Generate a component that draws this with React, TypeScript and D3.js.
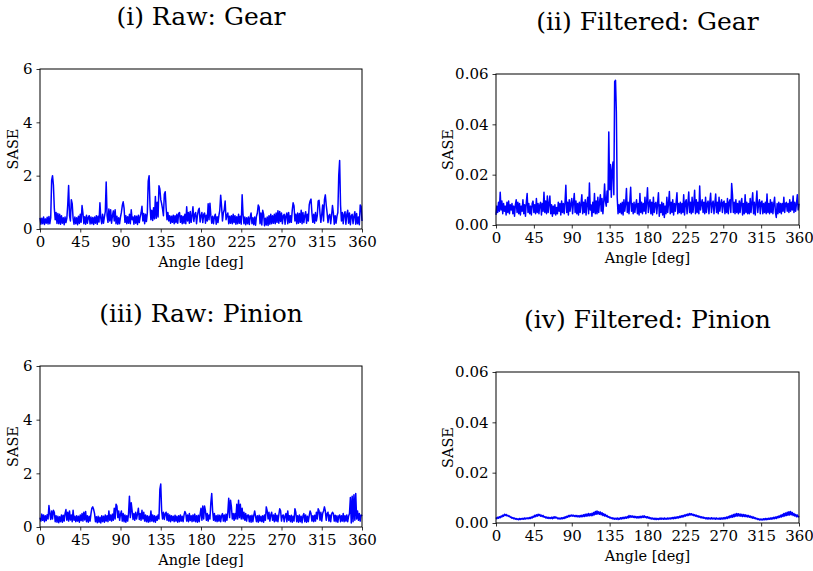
import { useEffect, useRef } from "react";
import * as d3 from "d3";

// SASE vs shaft angle, one sample per degree (0..360)
const ANGLE_TICKS = [0, 45, 90, 135, 180, 225, 270, 315, 360];
const RAW_TICKS = [0, 2, 4, 6];
const FILTERED_TICKS = [0, 0.02, 0.04, 0.06];
const TITLES = ["(i) Raw: Gear", "(ii) Filtered: Gear", "(iii) Raw: Pinion", "(iv) Filtered: Pinion"];

const rawGear = [
  0.42, 0.18, 0.40, 0.2, 0.45, 0.17, 0.38, 0.22, 0.44, 0.19, 0.47, 0.2, 0.43, 1.82, 2.0, 1.65, 0.78, 0.35, 0.62, 0.21,
  0.58, 0.2, 0.55, 0.18, 0.5, 0.22, 0.42, 0.16, 0.45, 0.24, 0.4, 0.9, 1.63, 0.5, 0.3, 1.1, 0.95, 0.4, 0.18, 0.45,
  0.2, 0.42, 0.16, 0.48, 0.21, 0.55, 0.25, 0.88, 0.6, 0.2, 0.46, 0.18, 0.52, 0.22, 0.44, 0.5, 0.19, 0.45, 0.2, 0.43,
  0.17, 0.45, 0.22, 0.5, 0.18, 0.48, 0.26, 0.98, 0.4, 0.2, 0.55, 0.22, 0.45, 0.65, 1.76, 0.5, 0.25, 0.75, 0.3, 0.72,
  0.22, 0.5, 0.68, 0.3, 0.72, 0.2, 0.48, 0.18, 0.42, 0.2, 0.45, 0.62, 0.88, 1.02, 0.78, 0.25, 0.5, 0.2, 0.46, 0.22,
  0.55, 0.2, 0.72, 0.35, 0.45, 0.18, 0.5, 0.22, 0.48, 0.17, 0.52, 0.24, 0.45, 0.6, 0.85, 0.3, 0.58, 0.2, 0.55, 0.28,
  0.6, 1.8, 2.0, 0.85, 0.35, 0.7, 0.32, 0.8, 0.38, 1.22, 0.4, 1.0, 0.45, 1.62, 1.5, 1.1, 0.95, 0.75, 0.5, 1.3,
  1.4, 0.8, 0.35, 0.62, 0.3, 0.5, 0.22, 0.48, 0.25, 0.52, 0.2, 0.5, 0.24, 0.55, 0.22, 0.58, 0.62, 0.25, 0.5, 0.2,
  0.48, 0.22, 0.55, 0.2, 0.83, 0.3, 0.62, 0.22, 0.66, 0.25, 0.5, 0.83, 0.28, 0.55, 0.62, 0.2, 0.5, 0.7, 0.78, 0.26,
  0.5, 0.62, 0.24, 0.55, 0.6, 0.22, 0.52, 0.3, 0.95, 0.35, 0.97, 0.5, 0.22, 0.48, 0.2, 0.45, 0.55, 0.18, 0.46, 0.24,
  0.5, 0.7, 1.27, 0.85, 0.3, 0.6, 0.72, 1.05, 0.35, 0.5, 0.6, 0.2, 0.48, 0.22, 0.5, 0.2, 0.55, 0.24, 0.5, 0.18,
  0.46, 0.2, 0.55, 0.22, 0.48, 0.18, 1.28, 0.55, 0.2, 0.45, 0.16, 0.42, 0.2, 0.45, 0.17, 0.44, 0.6, 0.2, 0.42, 0.16,
  0.45, 0.14, 0.48, 0.6, 0.9, 0.82, 0.2, 0.6, 0.15, 0.7, 0.55, 0.12, 0.4, 0.15, 0.45, 0.13, 0.5, 0.18, 0.55, 0.2,
  0.5, 0.22, 0.55, 0.2, 0.6, 0.25, 0.68, 0.22, 0.66, 0.28, 0.6, 0.2, 0.5, 0.55, 0.18, 0.5, 0.6, 0.2, 0.62, 0.24,
  0.5, 0.25, 0.7, 0.98, 0.86, 0.3, 0.55, 0.2, 0.6, 0.22, 0.58, 0.25, 0.7, 0.2, 0.62, 0.24, 0.5, 0.65, 0.22, 0.55,
  0.3, 0.9, 1.05, 1.12, 0.6, 0.25, 0.55, 0.22, 0.62, 0.3, 0.5, 1.05, 1.08, 0.6, 0.25, 0.55, 0.9, 0.3, 1.1, 1.28,
  0.9, 0.6, 0.24, 0.5, 0.55, 0.2, 0.5, 0.88, 0.6, 0.18, 0.5, 0.22, 0.48, 0.62, 2.0, 2.57, 0.9, 0.3, 0.62, 0.2,
  0.55, 0.65, 0.18, 0.55, 0.7, 0.22, 0.6, 0.16, 0.5, 0.55, 0.2, 0.48, 0.65, 0.18, 0.58, 0.2, 0.45, 0.16, 0.9, 0.85,
  0.3,
];

const filteredGear = [
  0.004, 0.0075, 0.005, 0.009, 0.0055, 0.013, 0.006, 0.0095, 0.0045, 0.0085, 0.0055, 0.0075, 0.004, 0.009, 0.005, 0.0095, 0.0045, 0.008, 0.006, 0.0085,
  0.0045, 0.0075, 0.0035, 0.008, 0.01, 0.005, 0.009, 0.0045, 0.0085, 0.004, 0.0075, 0.0055, 0.01, 0.0045, 0.008, 0.0035, 0.009, 0.0125, 0.005, 0.0085,
  0.0045, 0.0075, 0.004, 0.0085, 0.0095, 0.005, 0.008, 0.0045, 0.0105, 0.005, 0.0085, 0.0045, 0.008, 0.009, 0.004, 0.0085, 0.0055, 0.013, 0.005, 0.0095,
  0.0045, 0.0115, 0.005, 0.0085, 0.0115, 0.0045, 0.008, 0.0035, 0.0075, 0.0045, 0.008, 0.004, 0.007, 0.0045, 0.009, 0.0055, 0.0085, 0.004, 0.0095, 0.005,
  0.0085, 0.0045, 0.009, 0.0158, 0.005, 0.009, 0.004, 0.01, 0.0055, 0.0085, 0.0105, 0.0045, 0.009, 0.0125, 0.005, 0.0095, 0.0045, 0.0085, 0.004, 0.009,
  0.005, 0.0085, 0.012, 0.0045, 0.009, 0.005, 0.01, 0.004, 0.0085, 0.011, 0.0045, 0.0167, 0.006, 0.008, 0.0035, 0.009, 0.005, 0.0125, 0.0045, 0.0095,
  0.0045, 0.011, 0.005, 0.009, 0.012, 0.0055, 0.0105, 0.0045, 0.009, 0.0163, 0.0095, 0.0075, 0.0135, 0.009, 0.037, 0.014, 0.024, 0.011, 0.022, 0.025,
  0.012, 0.057, 0.0575, 0.045, 0.011, 0.0045, 0.008, 0.005, 0.0085, 0.0045, 0.009, 0.004, 0.01, 0.0055, 0.0085, 0.0145, 0.005, 0.009, 0.0045, 0.0095,
  0.015, 0.0055, 0.0085, 0.0045, 0.009, 0.005, 0.008, 0.01, 0.0045, 0.0085, 0.004, 0.0125, 0.005, 0.009, 0.0045, 0.0085, 0.0055, 0.011, 0.0045, 0.009,
  0.0148, 0.005, 0.0085, 0.01, 0.0045, 0.009, 0.004, 0.011, 0.005, 0.0085, 0.009, 0.0045, 0.0085, 0.0128, 0.0035, 0.008, 0.005, 0.009, 0.004, 0.0085,
  0.003, 0.0075, 0.0045, 0.011, 0.005, 0.0085, 0.0133, 0.0045, 0.009, 0.005, 0.01, 0.004, 0.0085, 0.0055, 0.009, 0.0128, 0.0045, 0.0085, 0.005, 0.009,
  0.0045, 0.0085, 0.005, 0.012, 0.004, 0.009, 0.01, 0.0045, 0.0085, 0.0131, 0.005, 0.009, 0.0045, 0.011, 0.005, 0.0085, 0.0138, 0.0045, 0.01, 0.005,
  0.009, 0.0045, 0.0155, 0.006, 0.0085, 0.01, 0.005, 0.009, 0.0045, 0.011, 0.005, 0.0085, 0.0095, 0.0045, 0.009, 0.0126, 0.005, 0.0085, 0.0095, 0.0045,
  0.0085, 0.0123, 0.005, 0.009, 0.0045, 0.011, 0.0055, 0.0085, 0.01, 0.005, 0.009, 0.0095, 0.0045, 0.0085, 0.005, 0.0105, 0.0045, 0.009, 0.01, 0.005,
  0.0165, 0.012, 0.005, 0.009, 0.0045, 0.01, 0.005, 0.0085, 0.0045, 0.0095, 0.005, 0.009, 0.0105, 0.004, 0.0085, 0.0045, 0.012, 0.005, 0.009, 0.0045,
  0.0085, 0.0045, 0.0105, 0.005, 0.009, 0.0128, 0.0045, 0.009, 0.004, 0.0085, 0.0135, 0.005, 0.0085, 0.01, 0.0045, 0.009, 0.0095, 0.0045, 0.0085, 0.005,
  0.009, 0.0045, 0.0123, 0.005, 0.0085, 0.0045, 0.01, 0.005, 0.009, 0.0045, 0.0085, 0.011, 0.005, 0.003, 0.0085, 0.0045, 0.009, 0.005, 0.0085, 0.0045,
  0.0085, 0.0055, 0.011, 0.005, 0.0085, 0.009, 0.0055, 0.0085, 0.005, 0.01, 0.0055, 0.009, 0.006, 0.0115, 0.005, 0.009, 0.0055, 0.0085, 0.012, 0.006,
  0.0085,
];

const rawPinion = [
  0.35, 0.22, 0.48, 0.25, 0.45, 0.2, 0.42, 0.24, 0.46, 0.3, 0.8, 0.5, 0.28, 0.6, 0.3, 0.62, 0.55, 0.2, 0.42, 0.18,
  0.4, 0.16, 0.38, 0.2, 0.45, 0.18, 0.44, 0.22, 0.5, 0.65, 0.25, 0.55, 0.22, 0.6, 0.26, 0.45, 0.2, 0.62, 0.25, 0.4,
  0.2, 0.42, 0.22, 0.4, 0.18, 0.45, 0.24, 0.5, 0.22, 0.55, 0.26, 0.58, 0.2, 0.42, 0.18, 0.4, 0.22, 0.5, 0.7, 0.75,
  0.65, 0.5, 0.2, 0.38, 0.16, 0.4, 0.18, 0.36, 0.15, 0.42, 0.2, 0.4, 0.18, 0.45, 0.22, 0.42, 0.2, 0.6, 0.25, 0.45,
  0.22, 0.48, 0.25, 0.7, 0.3, 0.85, 0.78, 0.35, 0.6, 0.25, 0.48, 0.6, 0.22, 0.5, 0.2, 0.45, 0.18, 0.42, 0.22, 0.5,
  1.15, 0.35, 0.9, 0.6, 0.28, 0.5, 0.25, 0.55, 0.3, 0.48, 0.7, 0.28, 0.5, 0.25, 0.62, 0.3, 0.55, 0.22, 0.45, 0.2,
  0.42, 0.18, 0.4, 0.2, 0.6, 0.22, 0.45, 0.2, 0.42, 0.18, 0.4, 0.25, 0.45, 0.3, 1.4, 1.6, 0.6, 0.3, 0.55, 0.28,
  0.5, 0.55, 0.25, 0.5, 0.22, 0.45, 0.2, 0.42, 0.24, 0.4, 0.2, 0.44, 0.22, 0.4, 0.18, 0.42, 0.2, 0.45, 0.22, 0.4,
  0.2, 0.44, 0.58, 0.5, 0.22, 0.45, 0.2, 0.5, 0.24, 0.42, 0.2, 0.45, 0.22, 0.48, 0.2, 0.42, 0.18, 0.44, 0.2, 0.46,
  0.7, 0.25, 0.78, 0.3, 0.78, 0.6, 0.25, 0.5, 0.22, 0.45, 0.3, 0.9, 1.25, 0.6, 0.25, 0.5, 0.22, 0.42, 0.2, 0.45,
  0.22, 0.44, 0.2, 0.42, 0.5, 0.22, 0.45, 0.2, 0.48, 0.25, 0.55, 1.07, 0.35, 1.0, 0.75, 0.3, 0.5, 0.25, 0.5, 0.3,
  0.85, 0.3, 1.0, 0.35, 0.85, 0.3, 0.7, 0.3, 0.55, 0.25, 0.5, 0.22, 0.44, 0.45, 0.2, 0.42, 0.18, 0.44, 0.2, 0.42,
  0.6, 0.4, 0.2, 0.42, 0.18, 0.44, 0.22, 0.4, 0.2, 0.42, 0.18, 0.45, 0.25, 0.75, 0.6, 0.3, 0.55, 0.22, 0.45, 0.55,
  0.25, 0.45, 0.2, 0.5, 0.22, 0.44, 0.2, 0.45, 0.68, 0.6, 0.22, 0.42, 0.45, 0.2, 0.4, 0.5, 0.2, 0.6, 0.25, 0.42,
  0.2, 0.44, 0.18, 0.4, 0.22, 0.68, 0.55, 0.2, 0.42, 0.18, 0.45, 0.2, 0.4, 0.16, 0.42, 0.5, 0.2, 0.45, 0.18, 0.4,
  0.2, 0.42, 0.6, 0.5, 0.22, 0.42, 0.2, 0.44, 0.22, 0.55, 0.3, 0.68, 0.6, 0.25, 0.55, 0.22, 0.5, 0.6, 0.75, 0.6,
  0.25, 0.5, 0.55, 0.22, 0.45, 0.2, 0.48, 0.55, 0.5, 0.22, 0.44, 0.2, 0.42, 0.18, 0.4, 0.45, 0.2, 0.42, 0.22, 0.5,
  0.2, 0.42, 0.22, 0.45, 0.2, 0.4, 0.5, 1.1, 0.15, 1.15, 0.2, 1.2, 0.25, 1.25, 0.3, 0.6, 0.25, 0.5, 0.22, 0.45,
  0.4,
];

const filteredPinion = [
  0.0022, 0.0017, 0.0023, 0.0019, 0.0025, 0.0021, 0.0028, 0.0024, 0.0031, 0.0027, 0.0035, 0.003, 0.0034, 0.0028, 0.0031, 0.0026, 0.0028, 0.0022, 0.0024, 0.0019,
  0.0022, 0.0017, 0.002, 0.0015, 0.0018, 0.0014, 0.0017, 0.0013, 0.0018, 0.0014, 0.0018, 0.0015, 0.0019, 0.0015, 0.002, 0.0016, 0.002, 0.0017, 0.0021, 0.0017,
  0.0022, 0.0018, 0.0024, 0.002, 0.0027, 0.0023, 0.0031, 0.0025, 0.0033, 0.0027, 0.0035, 0.0029, 0.0034, 0.0027, 0.0031, 0.0025, 0.003, 0.0023, 0.0026, 0.002,
  0.0024, 0.0019, 0.0023, 0.0018, 0.0022, 0.0018, 0.0023, 0.0017, 0.0024, 0.0019, 0.0025, 0.002, 0.0023, 0.0017, 0.002, 0.0016, 0.002, 0.0016, 0.0021, 0.0017,
  0.0022, 0.0018, 0.0025, 0.002, 0.0027, 0.0023, 0.003, 0.0025, 0.0031, 0.0027, 0.0032, 0.0027, 0.0031, 0.0026, 0.003, 0.0025, 0.003, 0.0025, 0.0029, 0.0024,
  0.003, 0.0024, 0.0031, 0.0025, 0.0033, 0.0026, 0.0035, 0.0027, 0.0036, 0.0028, 0.0038, 0.0029, 0.0037, 0.0029, 0.0039, 0.003, 0.0042, 0.0033, 0.0046, 0.0035,
  0.0048, 0.0036, 0.0045, 0.0035, 0.0044, 0.0033, 0.0041, 0.003, 0.0037, 0.0028, 0.0034, 0.0026, 0.003, 0.0023, 0.0026, 0.002, 0.0023, 0.0018, 0.0021, 0.0016,
  0.002, 0.0015, 0.0019, 0.0015, 0.002, 0.0014, 0.0019, 0.0015, 0.0021, 0.0016, 0.0022, 0.0017, 0.0023, 0.0018, 0.0024, 0.0019, 0.0026, 0.002, 0.003, 0.0022,
  0.0029, 0.0023, 0.0028, 0.0022, 0.0027, 0.0021, 0.0026, 0.002, 0.0025, 0.002, 0.0026, 0.002, 0.0027, 0.0021, 0.0028, 0.0022, 0.0029, 0.0022, 0.0026, 0.002,
  0.0025, 0.0019, 0.0023, 0.0017, 0.0021, 0.0016, 0.002, 0.0015, 0.0019, 0.0014, 0.0019, 0.0014, 0.0018, 0.0014, 0.0019, 0.0015, 0.002, 0.0015, 0.0019, 0.0015,
  0.002, 0.0015, 0.0019, 0.0015, 0.002, 0.0016, 0.002, 0.0016, 0.0021, 0.0017, 0.0022, 0.0017, 0.0023, 0.0018, 0.0024, 0.0019, 0.0025, 0.002, 0.0027, 0.0022,
  0.0029, 0.0023, 0.003, 0.0025, 0.0032, 0.0027, 0.0034, 0.0029, 0.0036, 0.003, 0.0038, 0.0032, 0.0037, 0.0031, 0.0035, 0.0029, 0.0033, 0.0027, 0.0031, 0.0025,
  0.0029, 0.0023, 0.0027, 0.0021, 0.0025, 0.002, 0.0024, 0.0019, 0.0022, 0.0017, 0.0021, 0.0016, 0.0021, 0.0016, 0.002, 0.0016, 0.0021, 0.0016, 0.002, 0.0016,
  0.002, 0.0015, 0.002, 0.0016, 0.0019, 0.0015, 0.002, 0.0015, 0.002, 0.0016, 0.0021, 0.0016, 0.0022, 0.0017, 0.0024, 0.0018, 0.0026, 0.002, 0.0029, 0.0022,
  0.0031, 0.0023, 0.0034, 0.0025, 0.0036, 0.0027, 0.0038, 0.0028, 0.0037, 0.0028, 0.0036, 0.0027, 0.0035, 0.0026, 0.0034, 0.0026, 0.0033, 0.0025, 0.0031, 0.0024,
  0.003, 0.0023, 0.0028, 0.0021, 0.0026, 0.0019, 0.0024, 0.0018, 0.0021, 0.0016, 0.0019, 0.0014, 0.0017, 0.0012, 0.0016, 0.0012, 0.0016, 0.0012, 0.0017, 0.0013,
  0.0018, 0.0013, 0.0018, 0.0014, 0.0019, 0.0015, 0.002, 0.0015, 0.0021, 0.0016, 0.0023, 0.0017, 0.0024, 0.0018, 0.0026, 0.002, 0.0028, 0.0022, 0.0031, 0.0024,
  0.0034, 0.0026, 0.0038, 0.0028, 0.004, 0.003, 0.0043, 0.0031, 0.0045, 0.0032, 0.0046, 0.0033, 0.0042, 0.003, 0.0038, 0.0028, 0.0034, 0.0025, 0.0032, 0.0024,
  0.0028,
];

const FONT = "'DejaVu Serif', serif";

const PANELS = [
  { title: TITLES[0], values: rawGear, ticks: RAW_TICKS, fmt: d3.format("d"), left: 40, right: 362, top: 69, bottom: 229, ylab: 22 },
  { title: TITLES[1], values: filteredGear, ticks: FILTERED_TICKS, fmt: d3.format(".2f"), left: 496, right: 799, top: 74, bottom: 225, ylab: 43 },
  { title: TITLES[2], values: rawPinion, ticks: RAW_TICKS, fmt: d3.format("d"), left: 40, right: 362, top: 366, bottom: 527, ylab: 22 },
  { title: TITLES[3], values: filteredPinion, ticks: FILTERED_TICKS, fmt: d3.format(".2f"), left: 496, right: 799, top: 372, bottom: 523, ylab: 43 },
];

export default function App() {
  const svgRef = useRef<SVGSVGElement>(null);

  useEffect(() => {
    const svg = d3.select(svgRef.current);
    svg.selectAll("*").remove();

    PANELS.forEach((p) => {
      const x = d3.scaleLinear().domain([0, 360]).range([p.left, p.right]);
      const y = d3.scaleLinear().domain([0, p.ticks[p.ticks.length - 1]]).range([p.bottom, p.top]);
      const g = svg.append("g");

      const line = d3
        .line<number>()
        .x((_, i) => x(i))
        .y((d) => y(d));

      g.append("path")
        .datum(p.values)
        .attr("fill", "none")
        .attr("stroke", "#0000ff")
        .attr("stroke-width", 1.5)
        .attr("stroke-linejoin", "round")
        .attr("d", line);

      const xAxis = g
        .append("g")
        .attr("transform", `translate(0,${p.bottom})`)
        .call(d3.axisBottom(x).tickValues(ANGLE_TICKS).tickSize(3.5).tickPadding(4).tickFormat(d3.format("d")));
      const yAxis = g
        .append("g")
        .attr("transform", `translate(${p.left},0)`)
        .call(d3.axisLeft(y).tickValues(p.ticks).tickSize(3.5).tickPadding(4).tickFormat(p.fmt as any));

      [xAxis, yAxis].forEach((ax) => {
        ax.select(".domain").remove();
        ax.selectAll("line").attr("stroke", "#000").attr("stroke-width", 0.8);
        ax.selectAll("text").attr("font-family", FONT).attr("font-size", 15).attr("fill", "#000");
      });

      g.append("rect")
        .attr("x", p.left)
        .attr("y", p.top)
        .attr("width", p.right - p.left)
        .attr("height", p.bottom - p.top)
        .attr("fill", "none")
        .attr("stroke", "#000")
        .attr("stroke-width", 1);

      g.append("text")
        .attr("x", (p.left + p.right) / 2)
        .attr("y", p.top - 44)
        .attr("text-anchor", "middle")
        .attr("font-family", FONT)
        .attr("font-size", 25)
        .text(p.title);

      g.append("text")
        .attr("x", (p.left + p.right) / 2)
        .attr("y", p.bottom + 38)
        .attr("text-anchor", "middle")
        .attr("font-family", FONT)
        .attr("font-size", 14.5)
        .text("Angle [deg]");

      g.append("text")
        .attr("transform", `translate(${p.left - p.ylab},${(p.top + p.bottom) / 2}) rotate(-90)`)
        .attr("text-anchor", "middle")
        .attr("font-family", FONT)
        .attr("font-size", 14.5)
        .text("SASE");
    });
  }, []);

  return (
    <svg
      ref={svgRef}
      width={813}
      height={571}
      style={{ position: "absolute", left: 0, top: 0, background: "#fff" }}
    />
  );
}
